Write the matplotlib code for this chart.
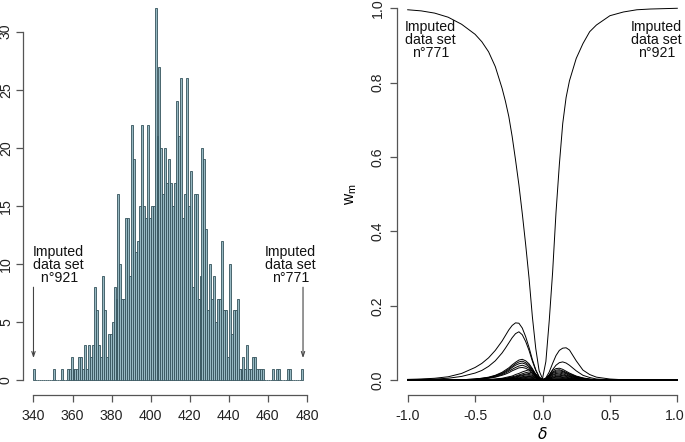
import numpy as np
import matplotlib
matplotlib.use("Agg")
import matplotlib.pyplot as plt
import matplotlib.transforms as mtransforms

plt.rcParams['font.family'] = ['Liberation Sans', 'DejaVu Sans']

# ---------------- Left panel: histogram data ----------------
HIST_START = 340
HIST_COUNTS = [
    1, 0, 0, 0, 0, 0, 0, 0, 0, 0,          # 340-349
    1, 0, 0, 0, 1, 0, 0, 1, 1, 2,          # 350-359
    1, 1, 1, 2, 2, 1, 3, 1, 3, 2,          # 360-369
    3, 8, 6, 3, 2, 9, 6, 2, 4, 4,          # 370-379
    5, 8, 7, 16, 10, 7, 7, 14, 14, 9,      # 380-389
    22, 19, 11, 12, 15, 22, 15, 14, 22, 14,  # 390-399
    15, 15, 32, 21, 27, 20, 16, 20, 17, 19,  # 400-409
    17, 15, 17, 24, 21, 26, 14, 16, 26, 15,  # 410-419
    18, 8, 16, 16, 7, 9, 20, 19, 13, 6,    # 420-429
    10, 7, 9, 5, 7, 7, 12, 6, 6, 2,        # 430-439
    10, 4, 6, 6, 7, 1, 1, 2, 1, 3,         # 440-449
    1, 1, 2, 2, 1, 1, 1, 1, 0, 0,          # 450-459
    0, 0, 1, 0, 1, 1, 0, 0, 0, 0,          # 460-469
    1, 1, 0, 0, 0, 0, 0, 1,                # 470-477
]
HIST_XTICKS = [340, 360, 380, 400, 420, 440, 460, 480]
HIST_YTICKS = [0, 5, 10, 15, 20, 25, 30]

# ---------------- Right panel: weight curves ----------------
DELTA_NEG = [-1.0, -0.9, -0.8, -0.7, -0.6, -0.5, -0.45, -0.4, -0.35, -0.3, -0.275,
             -0.25, -0.225, -0.2, -0.175, -0.15, -0.125, -0.1, -0.075, -0.05, -0.025, 0.0]
DELTA_POS = [0.0, 0.025, 0.05, 0.075, 0.1, 0.125, 0.15, 0.175, 0.2, 0.25,
             0.3, 0.35, 0.4, 0.5, 0.6, 0.7, 0.8, 0.9, 1.0]

# data set n°771: high weight for delta < 0 (values on DELTA_NEG; ~0 for delta > 0)
W_771 = [0.996, 0.993, 0.987, 0.976, 0.957, 0.930, 0.910, 0.883, 0.843, 0.785, 0.750,
         0.709, 0.655, 0.592, 0.525, 0.448, 0.365, 0.275, 0.170, 0.085, 0.025, 0.004]
# data set n°921: high weight for delta > 0 (values on DELTA_POS; ~0 for delta < 0)
W_921 = [0.004, 0.05, 0.16, 0.29, 0.45, 0.58, 0.69, 0.76, 0.805, 0.865,
         0.905, 0.937, 0.955, 0.980, 0.990, 0.996, 0.998, 0.999, 1.0]

# other data sets peaking at negative delta (values on DELTA_NEG)
LEFT_BUMPS = [
    [0.002, 0.003, 0.005, 0.009, 0.018, 0.034, 0.045, 0.060, 0.080, 0.105, 0.120, 0.135, 0.147, 0.154, 0.153, 0.140, 0.117, 0.088, 0.055, 0.028, 0.009, 0.001],
    [0.001, 0.002, 0.003, 0.005, 0.010, 0.019, 0.026, 0.037, 0.052, 0.073, 0.086, 0.100, 0.114, 0.125, 0.130, 0.122, 0.104, 0.080, 0.051, 0.026, 0.008, 0.001],
    [0, 0, 0, 0, 0.001, 0.003, 0.005, 0.008, 0.013, 0.021, 0.027, 0.033, 0.041, 0.048, 0.054, 0.056, 0.052, 0.044, 0.031, 0.016, 0.005, 0],
    [0, 0, 0, 0, 0.001, 0.003, 0.005, 0.007, 0.012, 0.019, 0.024, 0.030, 0.037, 0.044, 0.049, 0.051, 0.047, 0.040, 0.028, 0.015, 0.005, 0],
    [0, 0, 0, 0, 0.001, 0.002, 0.004, 0.006, 0.011, 0.017, 0.022, 0.027, 0.034, 0.040, 0.044, 0.046, 0.043, 0.036, 0.025, 0.013, 0.004, 0],
    [0, 0, 0, 0, 0.001, 0.002, 0.004, 0.006, 0.009, 0.015, 0.019, 0.024, 0.029, 0.034, 0.038, 0.040, 0.037, 0.032, 0.022, 0.012, 0.004, 0],
    [0, 0, 0, 0, 0, 0.002, 0.003, 0.005, 0.008, 0.013, 0.016, 0.020, 0.025, 0.029, 0.033, 0.034, 0.032, 0.027, 0.019, 0.010, 0.003, 0],
    [0, 0, 0, 0, 0, 0.001, 0.001, 0.002, 0.003, 0.005, 0.007, 0.009, 0.011, 0.015, 0.018, 0.022, 0.025, 0.028, 0.025, 0.016, 0.006, 0],
    [0, 0, 0, 0, 0, 0, 0.001, 0.002, 0.002, 0.004, 0.005, 0.007, 0.009, 0.011, 0.014, 0.017, 0.020, 0.022, 0.019, 0.013, 0.004, 0],
    [0, 0, 0, 0, 0, 0, 0.001, 0.001, 0.002, 0.003, 0.004, 0.006, 0.007, 0.009, 0.012, 0.014, 0.016, 0.018, 0.016, 0.010, 0.004, 0],
    [0, 0, 0, 0, 0, 0, 0.001, 0.001, 0.002, 0.003, 0.004, 0.005, 0.006, 0.008, 0.010, 0.012, 0.014, 0.015, 0.013, 0.009, 0.003, 0],
    [0, 0, 0, 0, 0, 0, 0, 0.001, 0.001, 0.002, 0.003, 0.004, 0.005, 0.006, 0.008, 0.009, 0.011, 0.012, 0.011, 0.007, 0.002, 0],
    [0, 0, 0, 0, 0, 0, 0, 0.001, 0.001, 0.002, 0.002, 0.003, 0.004, 0.005, 0.006, 0.008, 0.009, 0.010, 0.009, 0.006, 0.002, 0],
    [0, 0, 0, 0, 0, 0, 0, 0, 0.001, 0.002, 0.002, 0.002, 0.003, 0.004, 0.005, 0.006, 0.007, 0.008, 0.007, 0.005, 0.002, 0],
    [0, 0, 0, 0, 0, 0, 0, 0, 0, 0.001, 0.001, 0.002, 0.002, 0.003, 0.004, 0.005, 0.005, 0.006, 0.005, 0.003, 0.001, 0],
    [0, 0, 0, 0, 0, 0, 0, 0, 0, 0.001, 0.001, 0.001, 0.002, 0.002, 0.003, 0.003, 0.004, 0.004, 0.004, 0.002, 0.001, 0],
]
# other data sets peaking at positive delta (values on DELTA_POS)
RIGHT_BUMPS = [
    [0.001, 0.006, 0.022, 0.045, 0.066, 0.080, 0.086, 0.087, 0.081, 0.052, 0.027, 0.015, 0.008, 0.003, 0.001, 0, 0, 0, 0],
    [0, 0.004, 0.014, 0.028, 0.040, 0.047, 0.049, 0.046, 0.040, 0.025, 0.013, 0.007, 0.003, 0.001, 0, 0, 0, 0, 0],
    [0, 0.005, 0.014, 0.026, 0.031, 0.032, 0.029, 0.024, 0.019, 0.011, 0.006, 0.003, 0.001, 0, 0, 0, 0, 0, 0],
    [0, 0.004, 0.013, 0.022, 0.027, 0.028, 0.025, 0.021, 0.017, 0.010, 0.005, 0.002, 0.001, 0, 0, 0, 0, 0, 0],
    [0, 0.004, 0.011, 0.020, 0.024, 0.025, 0.023, 0.019, 0.015, 0.009, 0.005, 0.002, 0.001, 0, 0, 0, 0, 0, 0],
    [0, 0.003, 0.010, 0.018, 0.021, 0.022, 0.020, 0.017, 0.013, 0.008, 0.004, 0.002, 0.001, 0, 0, 0, 0, 0, 0],
    [0, 0.003, 0.009, 0.015, 0.018, 0.019, 0.017, 0.014, 0.011, 0.007, 0.003, 0.002, 0.001, 0, 0, 0, 0, 0, 0],
    [0, 0.002, 0.007, 0.013, 0.016, 0.016, 0.014, 0.012, 0.010, 0.006, 0.003, 0.001, 0.001, 0, 0, 0, 0, 0, 0],
    [0, 0.002, 0.006, 0.010, 0.013, 0.013, 0.012, 0.010, 0.008, 0.005, 0.002, 0.001, 0, 0, 0, 0, 0, 0, 0],
    [0, 0.002, 0.005, 0.008, 0.010, 0.010, 0.009, 0.008, 0.006, 0.004, 0.002, 0.001, 0, 0, 0, 0, 0, 0, 0],
    [0, 0.001, 0.004, 0.006, 0.008, 0.008, 0.007, 0.006, 0.005, 0.003, 0.001, 0.001, 0, 0, 0, 0, 0, 0, 0],
    [0, 0.001, 0.003, 0.005, 0.006, 0.006, 0.005, 0.005, 0.004, 0.002, 0.001, 0, 0, 0, 0, 0, 0, 0, 0],
    [0, 0.001, 0.002, 0.003, 0.004, 0.004, 0.004, 0.003, 0.002, 0.001, 0.001, 0, 0, 0, 0, 0, 0, 0, 0],
]
CURVE_XTICKS = [-1.0, -0.5, 0.0, 0.5, 1.0]
CURVE_YTICKS = [0.0, 0.2, 0.4, 0.6, 0.8, 1.0]

# ---------------- Figure ----------------
W, H = 685, 442
fig = plt.figure(figsize=(W / 100, H / 100), dpi=100)

FS = 10.2
AXCOL = '#555555'

def px_axes(x0, x1, ytop, ybot):
    return [x0 / W, 1 - ybot / H, (x1 - x0) / W, (ybot - ytop) / H]

def style_axes(ax, xb, yb, xpad, ypad):
    for s in ('top', 'right'):
        ax.spines[s].set_visible(False)
    for s in ('left', 'bottom'):
        ax.spines[s].set_color(AXCOL)
        ax.spines[s].set_linewidth(0.9)
    ax.spines['left'].set_bounds(*yb)
    ax.spines['bottom'].set_bounds(*xb)
    ax.tick_params(axis='both', direction='out', length=5, width=0.9,
                   color=AXCOL, labelsize=FS, labelcolor='#222222')
    ax.tick_params(axis='x', pad=xpad)
    ax.tick_params(axis='y', pad=ypad)
    for lab in ax.get_yticklabels():
        lab.set_rotation(90)
        lab.set_va('center')

# Left: histogram
ax1 = fig.add_axes(px_axes(22.7, 313.8, -6.4, 395))
edges = np.arange(HIST_START, HIST_START + len(HIST_COUNTS))
ax1.bar(edges, HIST_COUNTS, width=1.0, align='edge',
        color='#97b9c3', edgecolor='#34525b', linewidth=0.6)
ax1.set_xlim(334.48, 483.52)
ax1.set_ylim(-1.28, 33.28)
ax1.set_xticks(HIST_XTICKS)
ax1.set_yticks(HIST_YTICKS)
style_axes(ax1, (340, 480), (0, 30), 5.0, 2.0)

txt_kw = dict(ha='center', va='center', fontsize=FS, linespacing=0.88, color='#111111')
ax1.text(352.5, 9.9, "Imputed\ndata set\n n°921", **txt_kw)
ax1.text(471.5, 9.9, "Imputed\ndata set\nn°771", **txt_kw)
arr = dict(arrowstyle='->,head_length=0.35,head_width=0.12', color='#444444', lw=0.8,
           shrinkA=0, shrinkB=0)
ax1.annotate('', xy=(340, 1.9), xytext=(340, 8.0), arrowprops=arr)
ax1.annotate('', xy=(478, 1.9), xytext=(478, 8.0), arrowprops=arr)

# Right: weight curves
ax2 = fig.add_axes(px_axes(396.9, 688.1, -6.6, 395))
dn = np.array(DELTA_NEG)
dp = np.array(DELTA_POS)
d_all = np.concatenate([dn, dp[1:]])
zeros_pos = np.zeros(len(dp) - 1)
zeros_neg = np.zeros(len(dn) - 1)
lw = 0.7
ax2.plot(d_all, np.concatenate([W_771, zeros_pos]), color='black', lw=lw)
ax2.plot(d_all, np.concatenate([zeros_neg, W_921]), color='black', lw=lw)
for v in LEFT_BUMPS:
    ax2.plot(d_all, np.concatenate([v, zeros_pos]), color='black', lw=lw)
for v in RIGHT_BUMPS:
    ax2.plot(d_all, np.concatenate([zeros_neg, v]), color='black', lw=lw)
ax2.set_xlim(-1.08, 1.08)
ax2.set_ylim(-0.04, 1.04)
ax2.set_xticks(CURVE_XTICKS)
ax2.set_xticklabels([f"{t:.1f}" for t in CURVE_XTICKS])
ax2.set_yticks(CURVE_YTICKS)
ax2.set_yticklabels([f"{t:.1f}" for t in CURVE_YTICKS])
style_axes(ax2, (-1, 1), (0, 1), 5.0, 4.0)
# keep the last x tick label inside the figure
last = ax2.get_xticklabels()[-1]
last.set_transform(last.get_transform() +
                   mtransforms.ScaledTranslation(-2.5 / 100, 0, fig.dpi_scale_trans))
ax2.set_xlabel(r'$\delta$', fontsize=FS + 1, labelpad=2)
ax2.set_ylabel(r'w$_{\mathregular{m}}$', fontsize=FS + 1, labelpad=8)

ax2.text(-0.83, 0.915, "Imputed\ndata set\nn°771", **txt_kw)
ax2.text(0.847, 0.915, "Imputed\ndata set\nn°921", **txt_kw)

fig.savefig('out.png', dpi=100)
